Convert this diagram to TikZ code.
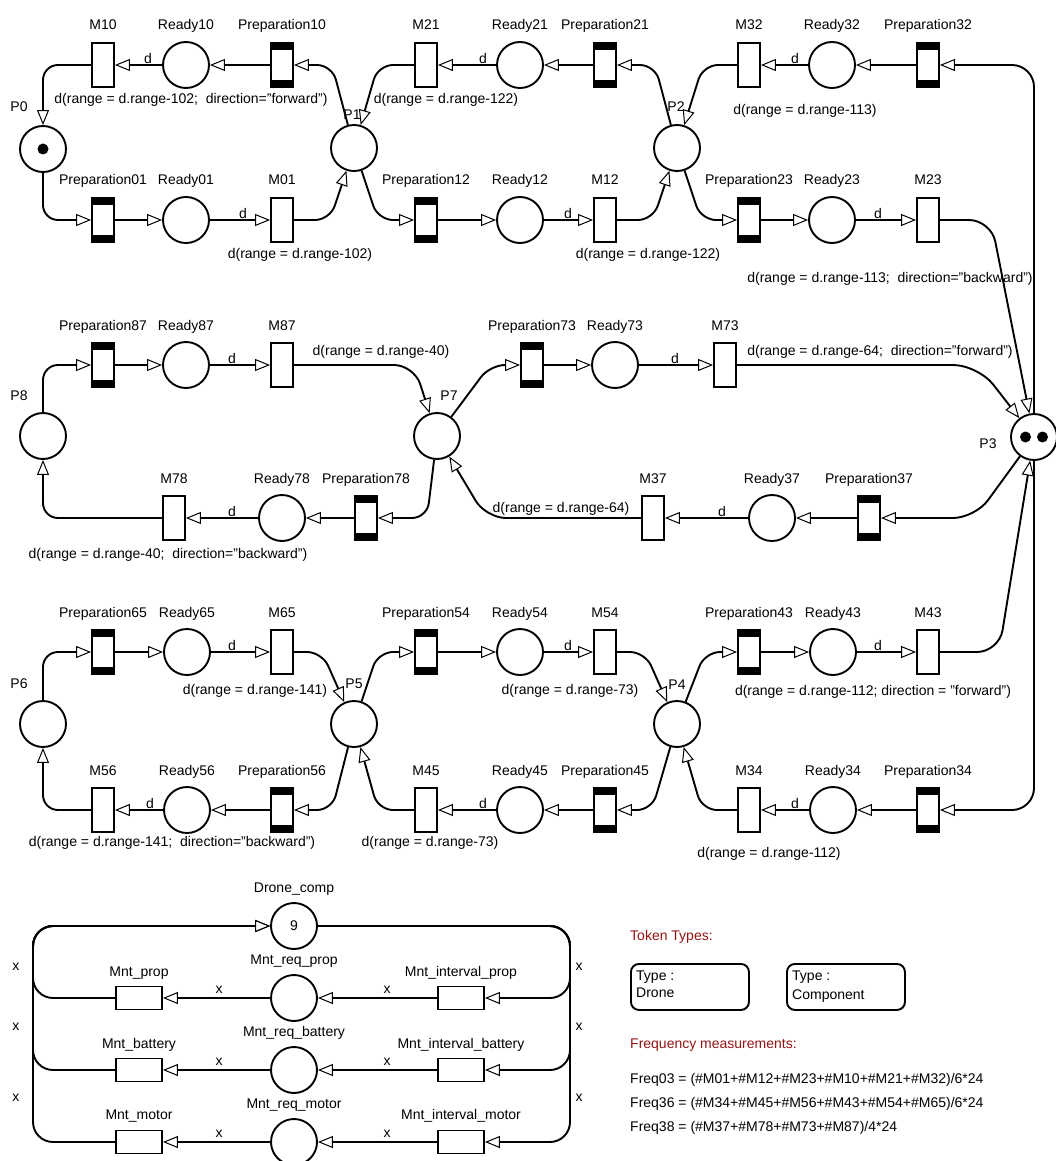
\documentclass[tikz,border=0pt]{standalone}
\usepackage{fontspec}
\setmainfont{Liberation Sans}
\usetikzlibrary{arrows.meta}
\definecolor{dred}{RGB}{150,20,20}
\begin{document}
\begin{tikzpicture}[x=1pt,y=-1pt,
 every node/.style={font=\fontsize{14}{17}\selectfont},
 place/.style={circle, draw, line width=1.9pt, minimum size=46pt, inner sep=0pt, fill=white},
 trans/.style={rectangle, draw, line width=1.9pt, minimum width=22pt, minimum height=44pt, inner sep=0pt, fill=white},
 prep/.style={trans, path picture={
   \fill[black] (path picture bounding box.north west) rectangle ([yshift=-7pt]path picture bounding box.north east);
   \fill[black] (path picture bounding box.south west) rectangle ([yshift=7pt]path picture bounding box.south east);}},
 mnt/.style={rectangle, draw, line width=1.9pt, minimum width=46pt, minimum height=23pt, inner sep=0pt, fill=white},
 lab/.style={anchor=base, inner sep=0pt},
 leftlab/.style={anchor=base west, inner sep=0pt},
 arc/.style={line width=1.9pt, -{Triangle[length=15pt, width=12pt, fill=white, line width=1pt]}},
 token/.style={circle, fill=black, minimum size=11pt, inner sep=0pt},
 tbox/.style={rectangle, draw, rounded corners=8pt, line width=1.9pt, minimum width=118pt, minimum height=46pt, inner sep=0pt},
]
\fill[white] (0,0) rectangle (1056,1161);
\useasboundingbox (0,0) rectangle (1056,1161);

% ---------- top section ----------
\node[place] (P0) at (43,149) {};
\node[token] (P0t) at (43,149) {};
\node[trans] (M10) at (103,65) {};
\node[place] (R10) at (186,65) {};
\node[prep] (Pr10) at (282,65) {};
\node[prep] (Pr01) at (103,220) {};
\node[place] (R01) at (186,220) {};
\node[trans] (M01) at (282,220) {};
\node[place] (P1) at (354,148) {};
\node[trans] (M21) at (426,65) {};
\node[place] (R21) at (520,65) {};
\node[prep] (Pr21) at (605,65) {};
\node[prep] (Pr12) at (426,220) {};
\node[place] (R12) at (520,220) {};
\node[trans] (M12) at (605,220) {};
\node[place] (P2) at (677,148) {};
\node[trans] (M32) at (749,65) {};
\node[place] (R32) at (832,65) {};
\node[prep] (Pr32) at (928,65) {};
\node[prep] (Pr23) at (749,220) {};
\node[place] (R23) at (832,220) {};
\node[trans] (M23) at (928,220) {};
\node[place] (P3) at (1034,437) {};
\node[token] (P3a) at (1025.5,437) {};
\node[token] (P3b) at (1042.5,437) {};

% ---------- middle section ----------
\node[place] (P8) at (43,436) {};
\node[prep] (Pr87) at (103,365) {};
\node[place] (R87) at (186,365) {};
\node[trans] (M87) at (282,365) {};
\node[place] (P7) at (437,436) {};
\node[trans] (M78) at (174,518) {};
\node[place] (R78) at (282,518) {};
\node[prep] (Pr78) at (366,518) {};
\node[prep] (Pr73) at (532,365) {};
\node[place] (R73) at (615,365) {};
\node[trans] (M73) at (725,365) {};
\node[trans] (M37) at (653,518) {};
\node[place] (R37) at (772,518) {};
\node[prep] (Pr37) at (869,518) {};

% ---------- lower section ----------
\node[place] (P6) at (43,724) {};
\node[prep] (Pr65) at (103,652) {};
\node[place] (R65) at (187,652) {};
\node[trans] (M65) at (282,652) {};
\node[place] (P5) at (354,724) {};
\node[trans] (M56) at (103,810) {};
\node[place] (R56) at (187,810) {};
\node[prep] (Pr56) at (282,810) {};
\node[prep] (Pr54) at (426,652) {};
\node[place] (R54) at (520,652) {};
\node[trans] (M54) at (605,652) {};
\node[place] (P4) at (677,724) {};
\node[trans] (M45) at (426,810) {};
\node[place] (R45) at (520,810) {};
\node[prep] (Pr45) at (605,810) {};
\node[prep] (Pr43) at (749,652) {};
\node[place] (R43) at (833,652) {};
\node[trans] (M43) at (928,652) {};
\node[trans] (M34) at (749,810) {};
\node[place] (R34) at (833,810) {};
\node[prep] (Pr34) at (928,810) {};

% ---------- edges top ----------
\draw[arc, rounded corners=15pt] (M10) -| (P0);
\draw[arc, rounded corners=15pt] (P0) |- (Pr01);
\draw[arc] (Pr10) -- (R10);
\draw[arc] (R10) -- (M10);
\draw[arc] (Pr01) -- (R01);
\draw[arc] (R01) -- (M01);
\draw[arc, rounded corners=15pt] (P1) -- (332,65) -- (Pr10);
\draw[arc, rounded corners=15pt] (M21) -- (378,65) -- (P1);
\draw[arc, rounded corners=15pt] (M01) -- (330,220) -- (P1);
\draw[arc, rounded corners=15pt] (P1) -- (378,220) -- (Pr12);
\draw[arc] (Pr21) -- (R21);
\draw[arc] (R21) -- (M21);
\draw[arc] (Pr12) -- (R12);
\draw[arc] (R12) -- (M12);
\draw[arc, rounded corners=15pt] (P2) -- (655,65) -- (Pr21);
\draw[arc, rounded corners=15pt] (M32) -- (703,65) -- (P2);
\draw[arc, rounded corners=15pt] (M12) -- (653,220) -- (P2);
\draw[arc, rounded corners=15pt] (P2) -- (701,220) -- (Pr23);
\draw[arc] (Pr32) -- (R32);
\draw[arc] (R32) -- (M32);
\draw[arc] (Pr23) -- (R23);
\draw[arc] (R23) -- (M23);
\draw[arc, rounded corners=22pt] (P3) |- (Pr32);
\draw[arc, rounded corners=22pt] (M23) -- (991,220) -- (P3);
\draw[arc, rounded corners=25pt] (M73) -- (978,365) -- (P3);
\draw[arc, rounded corners=22pt] (P3) -- (975,518) -- (Pr37);
\draw[arc, rounded corners=22pt] (M43) -- (999,652) -- (P3);
\draw[arc, rounded corners=22pt] (P3) |- (Pr34);

% ---------- edges middle ----------
\draw[arc, rounded corners=15pt] (P8) |- (Pr87);
\draw[arc, rounded corners=15pt] (M78) -| (P8);
\draw[arc] (Pr87) -- (R87);
\draw[arc] (R87) -- (M87);
\draw[arc, rounded corners=20pt] (M87) -- (414,365) -- (P7);
\draw[arc, rounded corners=15pt] (P7) -- (427,518) -- (Pr78);
\draw[arc] (Pr78) -- (R78);
\draw[arc] (R78) -- (M78);
\draw[arc, rounded corners=15pt] (P7) -- (490,365) -- (Pr73);
\draw[arc] (Pr73) -- (R73);
\draw[arc] (R73) -- (M73);
\draw[arc] (Pr37) -- (R37);
\draw[arc] (R37) -- (M37);
\draw[arc, rounded corners=20pt] (M37) -- (486,518) -- (P7);

% ---------- edges lower ----------
\draw[arc, rounded corners=15pt] (P6) |- (Pr65);
\draw[arc, rounded corners=15pt] (M56) -| (P6);
\draw[arc] (Pr65) -- (R65);
\draw[arc] (R65) -- (M65);
\draw[arc, rounded corners=15pt] (M65) -- (322,652) -- (P5);
\draw[arc, rounded corners=15pt] (P5) -- (378,652) -- (Pr54);
\draw[arc, rounded corners=15pt] (P5) -- (332,810) -- (Pr56);
\draw[arc] (Pr56) -- (R56);
\draw[arc] (R56) -- (M56);
\draw[arc, rounded corners=15pt] (M45) -- (378,810) -- (P5);
\draw[arc] (Pr54) -- (R54);
\draw[arc] (R54) -- (M54);
\draw[arc, rounded corners=15pt] (M54) -- (645,652) -- (P4);
\draw[arc, rounded corners=15pt] (P4) -- (705,652) -- (Pr43);
\draw[arc, rounded corners=15pt] (P4) -- (652,810) -- (Pr45);
\draw[arc] (Pr45) -- (R45);
\draw[arc] (R45) -- (M45);
\draw[arc, rounded corners=15pt] (M34) -- (702,810) -- (P4);
\draw[arc] (Pr43) -- (R43);
\draw[arc] (R43) -- (M43);
\draw[arc] (Pr34) -- (R34);
\draw[arc] (R34) -- (M34);

% ---------- node labels ----------
\node[lab] (lM10) at (103,30) {M10};
\node[lab] (lR10) at (186,30) {Ready10};
\node[lab] (lPr10) at (282,30) {Preparation10};
\node[lab] (lM21) at (426,30) {M21};
\node[lab] (lR21) at (520,30) {Ready21};
\node[lab] (lPr21) at (605,30) {Preparation21};
\node[lab] (lM32) at (749,30) {M32};
\node[lab] (lR32) at (832,30) {Ready32};
\node[lab] (lPr32) at (928,30) {Preparation32};
\node[lab] (lPr01) at (103,185) {Preparation01};
\node[lab] (lR01) at (186,185) {Ready01};
\node[lab] (lM01) at (282,185) {M01};
\node[lab] (lPr12) at (426,185) {Preparation12};
\node[lab] (lR12) at (520,185) {Ready12};
\node[lab] (lM12) at (605,185) {M12};
\node[lab] (lPr23) at (749,185) {Preparation23};
\node[lab] (lR23) at (832,185) {Ready23};
\node[lab] (lM23) at (928,185) {M23};
\node[lab] (lPr87) at (103,330) {Preparation87};
\node[lab] (lR87) at (186,330) {Ready87};
\node[lab] (lM87) at (282,330) {M87};
\node[lab] (lPr73) at (532,330) {Preparation73};
\node[lab] (lR73) at (615,330) {Ready73};
\node[lab] (lM73) at (725,330) {M73};
\node[lab] (lM78) at (174,483) {M78};
\node[lab] (lR78) at (282,483) {Ready78};
\node[lab] (lPr78) at (366,483) {Preparation78};
\node[lab] (lM37) at (653,483) {M37};
\node[lab] (lR37) at (772,483) {Ready37};
\node[lab] (lPr37) at (869,483) {Preparation37};
\node[lab] (lPr65) at (103,617) {Preparation65};
\node[lab] (lR65) at (187,617) {Ready65};
\node[lab] (lM65) at (282,617) {M65};
\node[lab] (lPr54) at (426,617) {Preparation54};
\node[lab] (lR54) at (520,617) {Ready54};
\node[lab] (lM54) at (605,617) {M54};
\node[lab] (lPr43) at (749,617) {Preparation43};
\node[lab] (lR43) at (833,617) {Ready43};
\node[lab] (lM43) at (928,617) {M43};
\node[lab] (lM56) at (103,775) {M56};
\node[lab] (lR56) at (187,775) {Ready56};
\node[lab] (lPr56) at (282,775) {Preparation56};
\node[lab] (lM45) at (426,775) {M45};
\node[lab] (lR45) at (520,775) {Ready45};
\node[lab] (lPr45) at (605,775) {Preparation45};
\node[lab] (lM34) at (749,775) {M34};
\node[lab] (lR34) at (833,775) {Ready34};
\node[lab] (lPr34) at (928,775) {Preparation34};
\node[lab] (lP0) at (19,112) {P0};
\node[lab] (lP1) at (352,120) {P1};
\node[lab] (lP2) at (676,112) {P2};
\node[lab] (lP8) at (19,400) {P8};
\node[lab] (lP7) at (449,400) {P7};
\node[lab] (lP3) at (988,448) {P3};
\node[lab] (lP6) at (19,688) {P6};
\node[lab] (lP5) at (354,688) {P5};
\node[lab] (lP4) at (677,689) {P4};

% ---------- d labels ----------
\node[lab] (d1) at (148,63.5) {d};
\node[lab] (d2) at (243,218.5) {d};
\node[lab] (d3) at (483,63.5) {d};
\node[lab] (d4) at (568,218.5) {d};
\node[lab] (d5) at (795,63.5) {d};
\node[lab] (d6) at (878,218.5) {d};
\node[lab] (d7) at (232,363.5) {d};
\node[lab] (d8) at (232,516.5) {d};
\node[lab] (d9) at (675,363.5) {d};
\node[lab] (d10) at (722,516.5) {d};
\node[lab] (d11) at (232,650.5) {d};
\node[lab] (d12) at (150,808.5) {d};
\node[lab] (d13) at (568,650.5) {d};
\node[lab] (d14) at (483,808.5) {d};
\node[lab] (d15) at (878,650.5) {d};
\node[lab] (d16) at (795,808.5) {d};

% ---------- annotations ----------
\node[lab] (a1) at (191,104) {d(range = d.range-102;\ \ direction="forward")};
\node[lab] (a2) at (300,258) {d(range = d.range-102)};
\node[lab] (a3) at (446,104) {d(range = d.range-122)};
\node[lab] (a4) at (648,258) {d(range = d.range-122)};
\node[lab] (a5) at (805,115) {d(range = d.range-113)};
\node[lab] (a6) at (890,282) {d(range = d.range-113;\ \ direction="backward")};
\node[lab] (a7) at (381,355) {d(range = d.range-40)};
\node[lab] (a8) at (168,558) {d(range = d.range-40;\ \ direction="backward")};
\node[lab] (a9) at (880,355) {d(range = d.range-64;\ \ direction="forward")};
\node[lab] (a10) at (561,512) {d(range = d.range-64)};
\node[lab] (a11) at (255,694) {d(range = d.range-141)};
\node[lab] (a12) at (570,694) {d(range = d.range-73)};
\node[lab] (a13) at (873,695) {d(range = d.range-112; direction = "forward")};
\node[lab] (a14) at (172,846) {d(range = d.range-141;\ \ direction="backward")};
\node[lab] (a15) at (430,846) {d(range = d.range-73)};
\node[lab] (a16) at (769,857) {d(range = d.range-112)};

% ---------- bottom legend net ----------
\node[place] (DC) at (294,926) {9};
\node[place] (RQp) at (294,998) {};
\node[place] (RQb) at (294,1070) {};
\node[place] (RQm) at (294,1142) {};
\node[mnt] (Mp) at (139,998) {};
\node[mnt] (Mb) at (139,1070) {};
\node[mnt] (Mm) at (139,1142) {};
\node[mnt] (Ip) at (461,998) {};
\node[mnt] (Ib) at (461,1070) {};
\node[mnt] (Im) at (461,1142) {};
\coordinate (LT) at (33,926);
\coordinate (RT) at (570,926);

\draw[arc, rounded corners=20pt] (Mp) -| (LT) -- (DC);
\draw[arc, rounded corners=20pt] (Mb) -| (LT) -- (DC);
\draw[arc, rounded corners=20pt] (Mm) -| (LT) -- (DC);
\draw[arc, rounded corners=20pt] (DC) -- (RT) |- (Ip);
\draw[arc, rounded corners=20pt] (DC) -- (RT) |- (Ib);
\draw[arc, rounded corners=20pt] (DC) -- (RT) |- (Im);
\draw[arc] (Ip) -- (RQp);
\draw[arc] (RQp) -- (Mp);
\draw[arc] (Ib) -- (RQb);
\draw[arc] (RQb) -- (Mb);
\draw[arc] (Im) -- (RQm);
\draw[arc] (RQm) -- (Mm);

\node[lab] (lDC) at (294,892) {Drone\_comp};
\node[lab] (lRQp) at (294,964) {Mnt\_req\_prop};
\node[lab] (lMp) at (139,976) {Mnt\_prop};
\node[lab] (lIp) at (461,976) {Mnt\_interval\_prop};
\node[lab] (lRQb) at (294,1036) {Mnt\_req\_battery};
\node[lab] (lMb) at (139,1048) {Mnt\_battery};
\node[lab] (lIb) at (461,1048) {Mnt\_interval\_battery};
\node[lab] (lRQm) at (294,1108) {Mnt\_req\_motor};
\node[lab] (lMm) at (139,1119) {Mnt\_motor};
\node[lab] (lIm) at (461,1119) {Mnt\_interval\_motor};

\node[lab] (x1) at (219,993) {x};
\node[lab] (x2) at (387,993) {x};
\node[lab] (x3) at (219,1065) {x};
\node[lab] (x4) at (387,1065) {x};
\node[lab] (x5) at (219,1137) {x};
\node[lab] (x6) at (387,1137) {x};
\node[lab] (xl1) at (16,970) {x};
\node[lab] (xl2) at (16,1030) {x};
\node[lab] (xl3) at (16,1101) {x};
\node[lab] (xr1) at (579,970) {x};
\node[lab] (xr2) at (579,1030) {x};
\node[lab] (xr3) at (579,1101) {x};

% ---------- legend text ----------
\node[leftlab, text=dred] (tt) at (630,940) {Token Types:};
\node[tbox, anchor=north west] (tb1) at (630,963) {};
\node[tbox, anchor=north west] (tb2) at (786,963) {};
\node[leftlab] (tb1a) at (636,980) {Type :};
\node[leftlab] (tb1b) at (636,997) {Drone};
\node[leftlab] (tb2a) at (792,980) {Type :};
\node[leftlab] (tb2b) at (792,999) {Component};
\node[leftlab, text=dred] (fm) at (630,1048) {Frequency measurements:};
\node[leftlab] (f1) at (630,1083) {Freq03 = (\#M01+\#M12+\#M23+\#M10+\#M21+\#M32)/6*24};
\node[leftlab] (f2) at (630,1107) {Freq36 = (\#M34+\#M45+\#M56+\#M43+\#M54+\#M65)/6*24};
\node[leftlab] (f3) at (630,1131) {Freq38 = (\#M37+\#M78+\#M73+\#M87)/4*24};
\end{tikzpicture}
\end{document}
